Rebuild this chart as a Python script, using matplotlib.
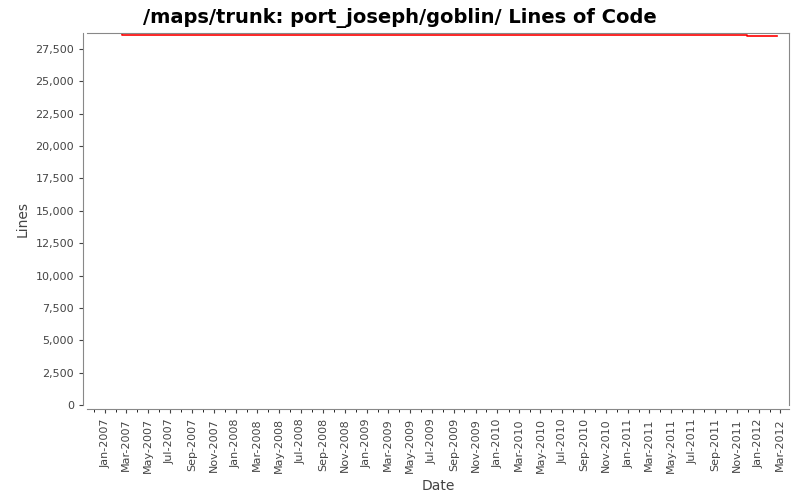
import matplotlib
matplotlib.use("Agg")
import matplotlib.pyplot as plt
import matplotlib.dates as mdates
from matplotlib.ticker import FuncFormatter
from datetime import datetime

# step data: date, lines of code
dates = [datetime(2006, 12, 3), datetime(2007, 2, 16), datetime(2011, 11, 28), datetime(2012, 2, 20)]
lines = [28700, 28600, 28530, 28530]

fig = plt.figure(figsize=(8, 5), dpi=100)
ax = fig.add_axes([0.109, 0.19, 0.877, 0.744])
ax.step(dates, lines, where="post", color="#ff0000", linewidth=1.2)
ax.plot(dates[:2], [lines[0]] * 2, color="#990000", linewidth=1.2)

ax.set_xlim(datetime(2006, 11, 12), datetime(2012, 3, 25))
ax.set_ylim(0, 28736)
ax.set_yticks(range(0, 27501, 2500))
ax.yaxis.set_major_formatter(FuncFormatter(lambda v, p: f"{int(v):,}"))
ax.xaxis.set_major_locator(mdates.MonthLocator(bymonth=[1, 3, 5, 7, 9, 11]))
ax.xaxis.set_minor_locator(mdates.MonthLocator())
ax.xaxis.set_major_formatter(mdates.DateFormatter("%b-%Y"))
ax.tick_params(labelsize=8, colors="#444444", length=3)
ax.tick_params(axis="x", labelrotation=90)
ax.tick_params(which="minor", length=2)
for s in ax.spines.values():
    s.set_color("#888888")
ax.spines["left"].set_position(("outward", 3))
ax.spines["bottom"].set_position(("outward", 3))
ax.set_xlabel("Date", fontsize=10, color="#444444")
ax.set_ylabel("Lines", fontsize=10, color="#444444")
fig.suptitle("/maps/trunk: port_joseph/goblin/ Lines of Code", fontsize=14, fontweight="bold", y=0.985)
fig.savefig("out.png", dpi=100)
